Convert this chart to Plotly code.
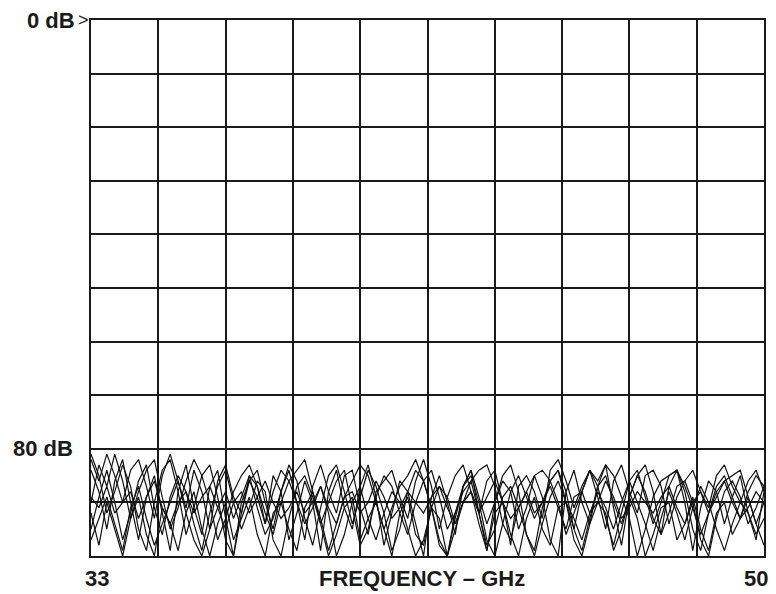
import numpy as np
import plotly.graph_objects as go

FREQ_START = 33
FREQ_STOP = 50
X_TICKS = [33, 50]
Y_LABELS = {0: "0 dB", 80: "80 dB"}

trace_a = [84,88,95,86,82,90,97,89,85,92,99,88,83,91,96,87,84,93,100,90,86,89,94,85,88,97,92,86,90,99,88,84,91,95,87,83,89,98,92,86,88,94,100,89,85,90,96,87,84,92,99,90,86,88,95,91,85,89,97,100,88,84,90,94,87,83,91,98,89,85,88,93,96,87,84,90,99,91,86,88,94,89,85,92,97,88]
trace_b = [82,86,81,85,90,84,82,87,93,85,81,86,91,84,88,95,86,83,89,92,85,87,94,88,84,86,90,97,87,83,88,92,85,84,91,96,88,86,84,89,93,86,82,87,95,89,85,83,88,92,86,84,90,98,87,85,88,93,84,82,86,91,87,84,89,95,86,83,88,92,85,84,87,94,89,86,84,88,91,85,83,87,90,86,84,88]
trace_c = [92,98,90,95,100,93,89,96,100,91,94,99,92,88,95,100,94,90,97,93,89,96,100,92,90,95,99,91,88,94,100,96,91,89,97,93,90,95,100,92,89,96,98,91,93,100,95,90,88,94,99,92,90,96,100,93,89,95,98,91,90,97,100,94,90,92,99,95,89,93,100,96,91,90,97,94,89,95,99,92,90,96,93,89,94,98]
trace_d = [89,91,87,92,90,88,93,89,86,91,94,90,88,92,89,87,91,95,90,88,92,89,86,90,93,91,88,92,90,87,91,94,89,88,92,90,86,89,93,91,88,90,92,89,87,91,94,90,88,92,89,86,90,93,91,88,92,90,87,91,95,89,88,92,90,86,89,93,91,88,90,92,89,87,91,94,90,88,92,89,86,90,93,91,88,90]
trace_e = [81,85,92,88,83,87,95,99,90,84,82,88,96,91,85,83,89,97,100,92,86,84,90,95,88,83,86,93,98,91,85,83,88,94,89,84,87,92,99,95,88,84,86,91,97,100,93,87,84,89,94,90,85,83,88,96,99,91,86,84,90,95,88,84,87,93,98,92,86,84,89,94,90,85,84,88,95,99,92,87,85,89,93,88,85,87]
trace_f = [95,89,84,90,97,92,86,83,91,96,89,85,88,94,99,92,87,84,90,95,91,86,88,97,100,93,87,85,89,94,90,86,84,91,98,95,89,85,87,92,96,90,86,84,89,95,92,87,85,90,97,100,94,88,85,89,93,90,86,84,88,95,99,93,87,85,90,94,89,85,83,88,96,92,87,86,90,97,100,93,88,86,89,94,91,87]
trace_g = [90,83,87,81,86,93,88,84,82,89,95,91,86,82,85,90,97,93,88,85,83,87,92,96,90,86,84,82,88,93,99,94,89,86,83,85,90,95,91,87,85,82,86,91,98,100,92,88,86,84,83,87,94,97,91,88,85,84,86,90,96,92,88,84,86,83,85,89,93,100,95,89,86,85,84,87,91,96,92,88,86,85,84,89,94,90]
trace_h = [97,93,89,94,99,91,87,93,98,94,90,86,92,97,100,95,91,88,93,89,85,91,96,93,88,84,90,94,91,87,92,100,96,90,87,93,97,92,88,90,95,100,97,91,87,89,94,90,86,92,98,95,89,87,91,96,100,94,89,86,90,93,97,92,88,91,95,90,86,90,94,99,93,88,92,97,91,87,90,95,99,94,90,92,96,93]

TRACES = [trace_a, trace_b, trace_c, trace_d, trace_e, trace_f, trace_g, trace_h]

FONT = "Liberation Sans, Arial, Helvetica, sans-serif"

fig = go.Figure()
for vals in TRACES:
    xs = np.linspace(FREQ_START, FREQ_STOP, len(vals))
    fig.add_trace(go.Scatter(x=xs, y=vals, mode="lines",
                             line=dict(color="#111111", width=1.2),
                             hoverinfo="skip", showlegend=False))

fig.update_xaxes(range=[FREQ_START, FREQ_STOP], tick0=FREQ_START,
                 dtick=(FREQ_STOP - FREQ_START) / 10,
                 showgrid=True, gridcolor="#1a1a1a", gridwidth=2,
                 showticklabels=False, ticks="", zeroline=False,
                 showline=True, linecolor="#1a1a1a", linewidth=2, mirror=True)
fig.update_yaxes(range=[100, 0], tick0=0, dtick=10,
                 showgrid=True, gridcolor="#1a1a1a", gridwidth=2,
                 showticklabels=False, ticks="", zeroline=False,
                 showline=True, linecolor="#1a1a1a", linewidth=2, mirror=True)

anns = []
for yv, txt in Y_LABELS.items():
    anns.append(dict(x=0, xref="paper", y=yv, yref="y", text=f"<b>{txt}</b>",
                     showarrow=False, xanchor="right", yanchor="middle",
                     xshift=-14 if yv == 0 else -16,
                     font=dict(family=FONT, size=22, color="#1a1a1a")))
anns.append(dict(x=0, xref="paper", y=0, yref="y", text=">",
                 showarrow=False, xanchor="right", yanchor="middle", xshift=0,
                 font=dict(family=FONT, size=18, color="#1a1a1a")))
for xv in X_TICKS:
    anns.append(dict(x=xv, xref="x", y=0, yref="paper", text=f"<b>{xv}</b>",
                     showarrow=False, xanchor="center", yanchor="top",
                     xshift=6 if xv == FREQ_START else -8, yshift=-8,
                     font=dict(family=FONT, size=22, color="#1a1a1a")))
anns.append(dict(x=0.492, xref="paper", y=0, yref="paper", text="<b>FREQUENCY – GHz</b>",
                 showarrow=False, xanchor="center", yanchor="top", yshift=-8,
                 font=dict(family=FONT, size=22, color="#1a1a1a")))

fig.update_layout(width=776, height=594, margin=dict(l=91, r=10, t=20, b=38),
                  plot_bgcolor="white", paper_bgcolor="white",
                  annotations=anns, showlegend=False)

fig.write_html("out.html", config={"displayModeBar": False},
               post_script="document.body.style.margin='0';document.body.style.overflow='hidden';")
